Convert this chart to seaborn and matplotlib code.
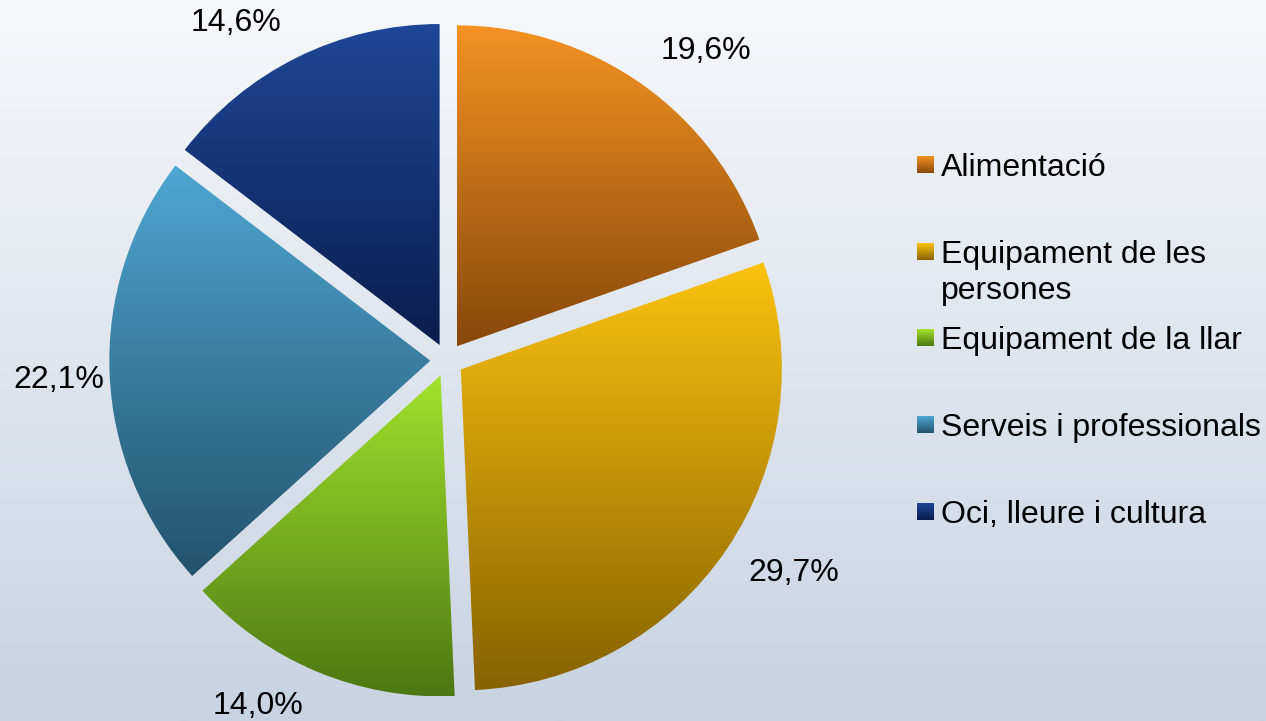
import numpy as np
import matplotlib
matplotlib.use("Agg")
import matplotlib.pyplot as plt
import seaborn as sns

# ---- data ----
categories = ["Alimentació", "Equipament de les persones", "Equipament de la llar",
              "Serveis i professionals", "Oci, lleure i cultura"]
legend_labels = ["Alimentació", "Equipament de les\npersones", "Equipament de la llar",
                 "Serveis i professionals", "Oci, lleure i cultura"]
values = [19.6, 29.7, 14.0, 22.1, 14.6]
top_colors = ["#F59222", "#FBC20E", "#A2E22C", "#4EA6D2", "#1F4797"]
bottom_colors = ["#874809", "#876300", "#4C7812", "#23536C", "#0A1D4E"]

sns.set_theme(style="white")
plt.rcParams["font.family"] = ["Liberation Sans", "DejaVu Sans"]

W, H = 1266, 721
fig = plt.figure(figsize=(W / 100, H / 100), dpi=100)

# background gradient
bg = fig.add_axes([0, 0, 1, 1], zorder=-2)
bg_cmap = sns.blend_palette(["#F6F8FB", "#C8D3E1"], as_cmap=True)
bg.imshow(np.linspace(0, 1, 256).reshape(-1, 1), cmap=bg_cmap, aspect="auto",
          extent=(0, 1, 0, 1), origin="upper")
bg.set_axis_off()

# pie axes: centre at (447, 360) px, radius 321 px
cx, cy, R = 447, 360, 321
half = 360
ax = fig.add_axes([(cx - half) / W, (H - cy - half) / H, 2 * half / W, 2 * half / H])
ax.set_facecolor("none")

wedges, _ = ax.pie(values, startangle=90, counterclock=False,
                   explode=[0.052] * len(values), radius=1,
                   wedgeprops=dict(edgecolor="none", linewidth=0))

grad = np.linspace(0, 1, 256).reshape(-1, 1)
for w, ct, cb in zip(wedges, top_colors, bottom_colors):
    ext = w.get_path().get_extents()
    cmap = sns.blend_palette([ct, cb], as_cmap=True)
    im = ax.imshow(grad, cmap=cmap, aspect="auto", origin="upper",
                   extent=(ext.x0, ext.x1, ext.y0, ext.y1), zorder=2)
    im.set_clip_path(w)
    w.set_facecolor("none")

lim = half / R
ax.set_xlim(-lim, lim)
ax.set_ylim(-lim, lim)
ax.set_aspect("equal")
ax.set_axis_off()

# percentage labels, placed outside along each slice bisector
label_nudge = [(0.085, -0.057), (0.045, 0.037), (-0.108, 0.076), (0.04, -0.01), (-0.105, -0.07)]
for w, v, (nx, ny) in zip(wedges, values, label_nudge):
    ang = np.deg2rad((w.theta1 + w.theta2) / 2)
    x = 1.25 * np.cos(ang) + nx
    y = 1.25 * np.sin(ang) + ny
    ax.text(x, y, f"{v:.1f}%".replace(".", ","), ha="center", va="center",
            fontsize=23, color="#000000", zorder=5)

# legend (manual, gradient markers)
lg = fig.add_axes([0, 0, 1, 1], zorder=3)
lg.set_facecolor("none")
y0, dy, line_gap = 164.5, 86.75, 36
for i, (lab, ct, cb) in enumerate(zip(legend_labels, top_colors, bottom_colors)):
    yc = y0 + i * dy
    cmap = sns.blend_palette([ct, cb], as_cmap=True)
    lg.imshow(grad, cmap=cmap, aspect="auto", origin="upper",
              extent=(917, 934, yc + 8.5, yc - 8.5))
    for j, line in enumerate(lab.split("\n")):
        lg.text(941, yc + 11.5 + j * line_gap, line, ha="left", va="baseline",
                fontsize=23, color="#000000")
lg.set_xlim(0, W)
lg.set_ylim(H, 0)
lg.set_axis_off()

fig.savefig("out.png", dpi=100)
